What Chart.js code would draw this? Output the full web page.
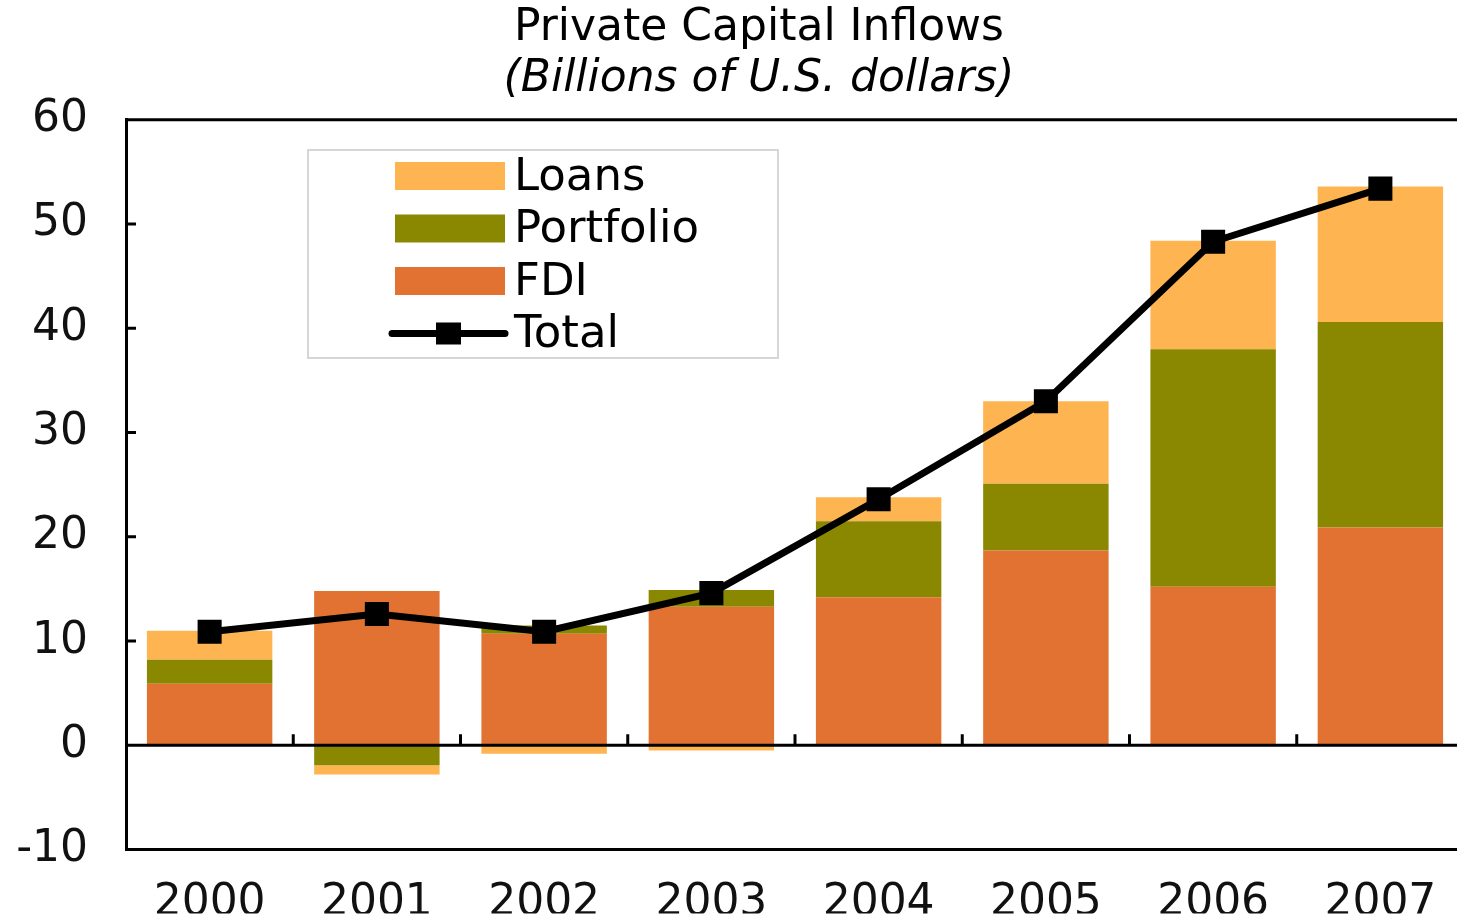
<!DOCTYPE html>
<html>
<head>
<meta charset="utf-8">
<title>Private Capital Inflows</title>
<script src="https://cdn.jsdelivr.net/npm/chart.js@4.4.1/dist/chart.umd.min.js"></script>
<style>
  html, body { margin: 0; padding: 0; background: #fff; overflow: hidden; }
  canvas { display: block; }
</style>
</head>
<body>
<canvas id="flows" width="1464" height="914"></canvas>
<script>
// values, billions of US dollars
const years = ['2000', '2001', '2002', '2003', '2004', '2005', '2006', '2007'];
const fdi = [5.9, 14.8, 10.7, 13.3, 14.2, 18.7, 15.2, 20.9];
const portfolio = [2.3, -1.9, 0.8, 1.6, 7.3, 6.4, 22.8, 19.7];
const loans = [2.8, -0.9, -0.8, -0.5, 2.3, 7.9, 10.4, 13.0];
const total = [10.9, 12.6, 10.9, 14.6, 23.6, 33.0, 48.3, 53.4];
const yTicks = [-10, 0, 10, 20, 30, 40, 50, 60];

const FONT = '"DejaVu Sans", "Liberation Sans", sans-serif';

// title block is centred a bit right of the canvas middle in the original
const titleShift = {
    id: 'titleShift',
    afterLayout(chart) {
        chart.boxes.forEach(b => {
            if (b.position === 'top' && !b.axis) b.left = 54;
        });
    }
};

// frame: top edge, zero line, tick marks pointing into the plot
const framePlugin = {
    id: 'frame',
    afterDatasetsDraw(chart) {
        const {ctx, chartArea: a, scales: {x, y}} = chart;
        const y0 = y.getPixelForValue(0);
        ctx.save();
        ctx.strokeStyle = '#000';
        ctx.lineWidth = 3;
        ctx.beginPath();
        ctx.moveTo(a.left, a.top);
        ctx.lineTo(a.right, a.top);
        ctx.moveTo(a.left, y0);
        ctx.lineTo(a.right, y0);
        yTicks.forEach(v => {
            if (v > yTicks[0] && v < yTicks[yTicks.length - 1]) {
                const py = y.getPixelForValue(v);
                ctx.moveTo(a.left, py);
                ctx.lineTo(a.left + 10, py);
            }
        });
        for (let i = 1; i < years.length; i++) {
            const px = (x.getPixelForValue(i - 1) + x.getPixelForValue(i)) / 2;
            ctx.moveTo(px, y0);
            ctx.lineTo(px, y0 - 11);
        }
        ctx.stroke();
        ctx.restore();
    }
};

// legend drawn inside the plot with a thin grey box
const boxLegend = {
    id: 'boxLegend',
    afterDraw(chart) {
        const ctx = chart.ctx;
        const ds = chart.data.datasets;
        const items = [ds[2], ds[1], ds[0], ds[3]];
        ctx.save();
        ctx.strokeStyle = '#d6d6d6';
        ctx.lineWidth = 2;
        ctx.strokeRect(308, 150, 470, 208);
        ctx.font = '45px ' + FONT;
        ctx.textBaseline = 'middle';
        items.forEach((d, k) => {
            const cy = 176 + k * 52.5;
            if (d.type === 'line') {
                ctx.strokeStyle = d.borderColor;
                ctx.lineWidth = 7;
                ctx.lineCap = 'round';
                ctx.beginPath();
                ctx.moveTo(392, cy);
                ctx.lineTo(505, cy);
                ctx.stroke();
                ctx.fillStyle = d.pointBackgroundColor;
                ctx.fillRect(436, cy - 11, 25, 22);
            } else {
                ctx.fillStyle = d.backgroundColor;
                ctx.fillRect(395, cy - 14, 110, 28);
            }
            ctx.fillStyle = '#000';
            ctx.fillText(d.label, 514, cy + 2);
        });
        ctx.restore();
    }
};

new Chart(document.getElementById('flows'), {
    data: {
        labels: years,
        datasets: [
            {
                type: 'bar',
                label: 'FDI',
                data: fdi,
                backgroundColor: '#E27231',
                stack: 'flows',
                order: 1
            },
            {
                type: 'bar',
                label: 'Portfolio',
                data: portfolio,
                backgroundColor: '#898800',
                stack: 'flows',
                order: 1
            },
            {
                type: 'bar',
                label: 'Loans',
                data: loans,
                backgroundColor: '#FFB452',
                stack: 'flows',
                order: 1
            },
            {
                type: 'line',
                label: 'Total',
                data: total,
                borderColor: '#000',
                borderWidth: 7,
                pointStyle: 'rect',
                pointRadius: 17,
                pointHoverRadius: 17,
                pointBackgroundColor: '#000',
                pointBorderWidth: 0,
                tension: 0,
                stack: 'total',
                order: 0
            }
        ]
    },
    options: {
        responsive: false,
        animation: false,
        events: [],
        layout: {
            padding: 0,
            autoPadding: false
        },
        datasets: {
            bar: {
                categoryPercentage: 1,
                barPercentage: 0.75
            }
        },
        plugins: {
            legend: { display: false },
            tooltip: { enabled: false },
            title: {
                display: true,
                text: 'Private Capital Inflows',
                color: '#000',
                font: { family: FONT, size: 44, weight: 'normal', lineHeight: 1.1 },
                padding: { top: 4, bottom: 0 }
            },
            subtitle: {
                display: true,
                text: '(Billions of U.S. dollars)',
                color: '#000',
                font: { family: FONT, size: 44, style: 'italic', lineHeight: 1.1 },
                padding: { top: 3, bottom: 16 }
            }
        },
        scales: {
            x: {
                stacked: true,
                grid: { display: true, color: 'transparent', drawTicks: false },
                border: { display: true, color: '#000', width: 3 },
                ticks: {
                    color: '#111',
                    font: { family: FONT, size: 44 },
                    padding: 28,
                    maxRotation: 0
                },
                afterFit(scale) {
                    scale.height = 64;
                    scale.paddingLeft = 0;
                    scale.paddingRight = 0;
                }
            },
            y: {
                stacked: true,
                min: -10,
                max: 60,
                grid: { display: true, color: 'transparent', drawTicks: false },
                border: { display: true, color: '#000', width: 3 },
                ticks: {
                    stepSize: 10,
                    color: '#111',
                    font: { family: FONT, size: 44 },
                    padding: 38
                },
                afterFit(scale) { scale.width = 126; }
            }
        }
    },
    plugins: [titleShift, framePlugin, boxLegend]
});
</script>
</body>
</html>
